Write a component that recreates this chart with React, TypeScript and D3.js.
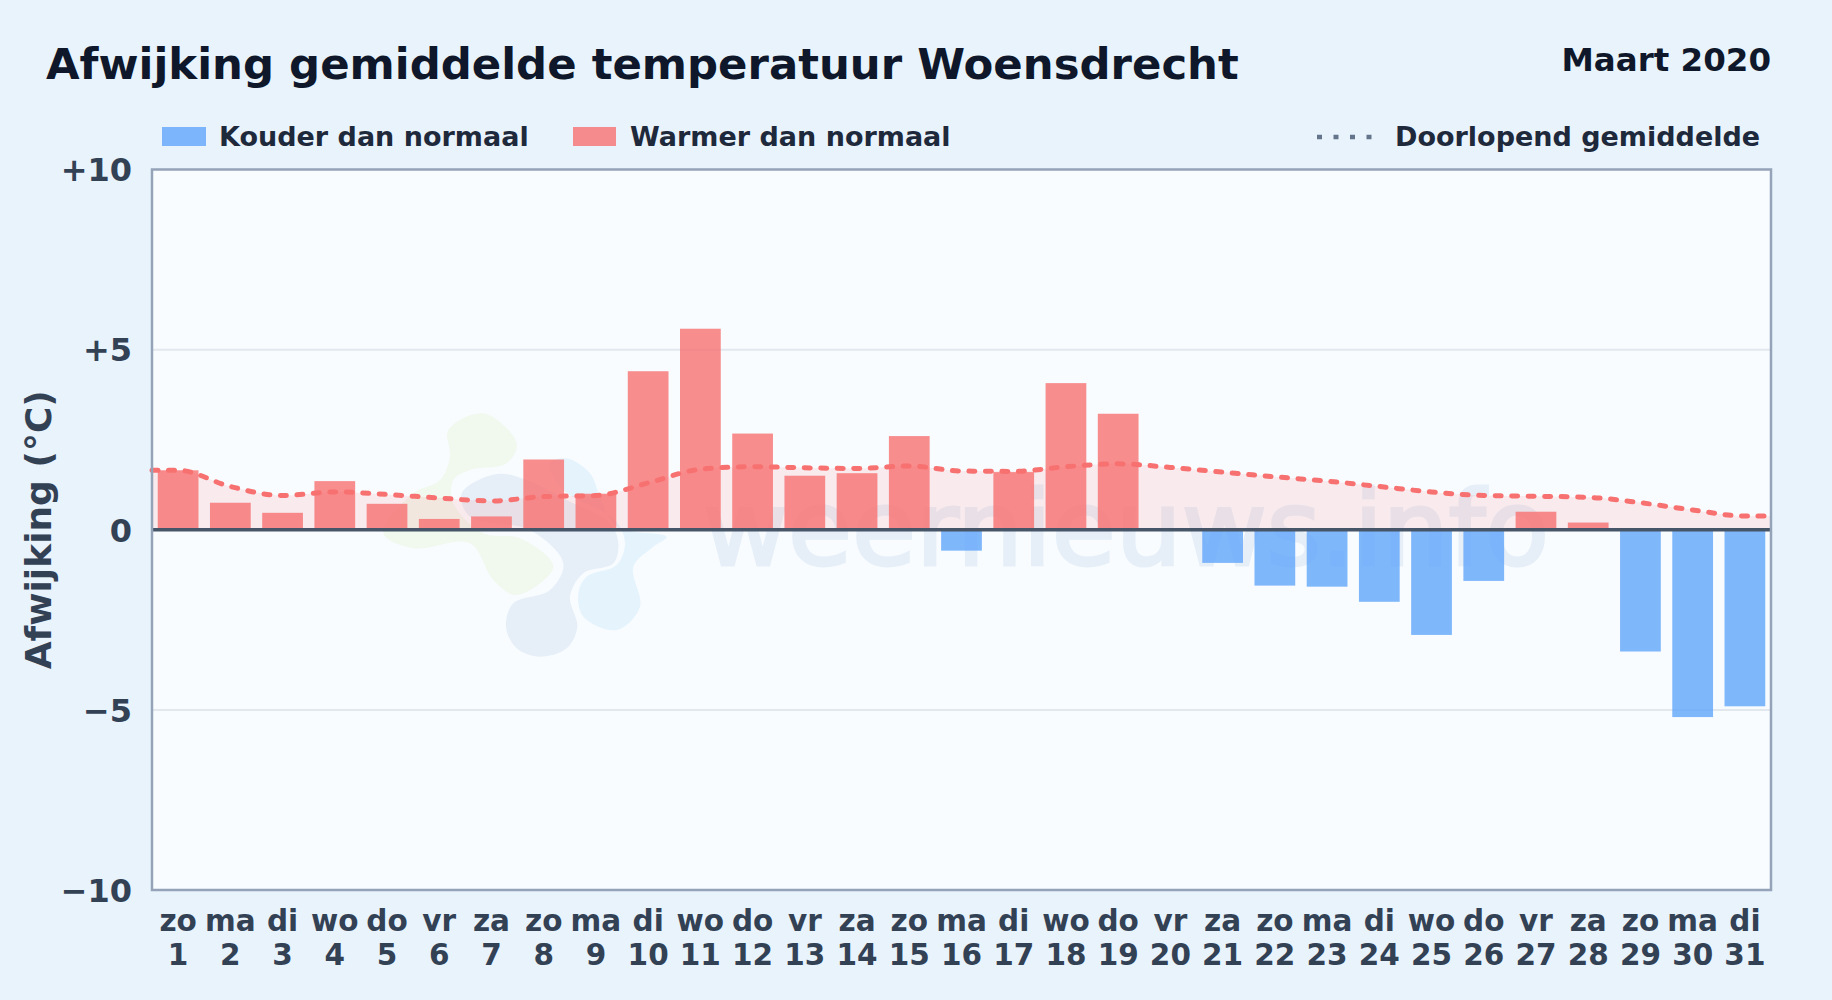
import React, { useEffect, useRef } from 'react';
import * as d3 from 'd3';

const days = ['zo', 'ma', 'di', 'wo', 'do', 'vr', 'za', 'zo', 'ma', 'di', 'wo', 'do', 'vr', 'za', 'zo', 'ma', 'di', 'wo', 'do', 'vr', 'za', 'zo', 'ma', 'di', 'wo', 'do', 'vr', 'za', 'zo', 'ma', 'di'];
const dates = d3.range(1, 32);
const deviation = [1.65, 0.75, 0.47, 1.35, 0.72, 0.3, 0.37, 1.95, 1.0, 4.4, 5.58, 2.67, 1.5, 1.57, 2.6, -0.58, 1.6, 4.07, 3.22, 0, -0.92, -1.55, -1.58, -2.0, -2.92, -1.42, 0.5, 0.2, -3.38, -5.2, -4.9];
const runningMean = [1.65, 1.2, 0.95, 1.05, 0.98, 0.88, 0.8, 0.92, 0.95, 1.3, 1.68, 1.75, 1.72, 1.7, 1.77, 1.63, 1.62, 1.75, 1.83, 1.73, 1.6, 1.47, 1.35, 1.2, 1.05, 0.95, 0.93, 0.9, 0.75, 0.55, 0.38];
const yTicks = [-10, -5, 0, 5, 10];
const gridTicks = [-5, 5];

// watermark logo outlines, in logo units
const logoGreen: [number, number][] = [[235, 90], [340, 40], [440, 130], [410, 190], [300, 210], [250, 240], [250, 310], [340, 400], [450, 415], [550, 500], [440, 585], [370, 540], [300, 430], [130, 445], [40, 400], [130, 280], [210, 240], [240, 170]];
const logoBlue: [number, number][] = [[380, 222], [275, 280], [300, 350], [480, 390], [580, 490], [540, 570], [430, 610], [408, 680], [440, 745], [510, 770], [590, 745], [622, 680], [600, 590], [640, 520], [730, 490], [745, 430], [720, 370], [590, 300], [470, 240]];
const logoSky: [number, number][] = [[590, 175], [660, 220], [690, 290], [740, 380], [890, 410], [850, 440], [790, 500], [810, 620], [740, 690], [640, 650], [625, 580], [650, 530], [740, 495], [765, 430], [735, 360], [580, 270], [540, 190]];

const W = 1832;
const H = 1000;
const margin = { left: 152, right: 61, top: 169.5, bottom: 110 };
const font = '"DejaVu Sans", sans-serif';

const App: React.FC = () => {
  const svgRef = useRef<SVGSVGElement>(null);

  useEffect(() => {
    if (!svgRef.current) return;
    const svg = d3.select(svgRef.current);
    svg.selectAll('*').remove();

    const right = W - margin.right;
    const bottom = H - margin.bottom;

    const x = d3.scaleBand<number>().domain(dates).range([margin.left, right]).paddingInner(0.22).paddingOuter(0.11);
    const xLine = d3.scaleLinear().domain([0.5, 31.5]).range([margin.left, right]);
    const y = d3.scaleLinear().domain([-10, 10]).range([bottom, margin.top]);

    svg.append('rect').attr('width', W).attr('height', H).attr('fill', '#e8f3fc');
    svg.append('rect')
      .attr('x', margin.left).attr('y', margin.top)
      .attr('width', right - margin.left).attr('height', bottom - margin.top)
      .attr('fill', '#f8fcff');

    // watermark
    const wm = svg.append('g');
    const blob = d3.line<[number, number]>()
      .x(d => 370 + d[0] / 3)
      .y(d => 400 + d[1] / 3)
      .curve(d3.curveCatmullRomClosed.alpha(0.5));
    wm.append('path').attr('d', blob(logoGreen)).attr('fill', '#f1f8ee');
    wm.append('path').attr('d', blob(logoSky)).attr('fill', '#e5f3fd');
    wm.append('path').attr('d', blob(logoBlue)).attr('fill', '#e6eff8');
    wm.append('text')
      .attr('x', 703).attr('y', 565)
      .attr('font-family', font).attr('font-size', 104)
      .attr('fill', '#e6eff8').attr('stroke', '#e6eff8').attr('stroke-width', 3)
      .text('weernieuws.info');

    // grid
    svg.append('g').selectAll('line').data(gridTicks).join('line')
      .attr('x1', margin.left).attr('x2', right)
      .attr('y1', d => y(d)).attr('y2', d => y(d))
      .attr('stroke', '#e2e8ee').attr('stroke-width', 2);

    // running mean area + line, held flat out to the plot edges
    const meanPts: [number, number][] = [[0.5, runningMean[0]], ...runningMean.map((v, i) => [dates[i], v] as [number, number]), [31.5, runningMean[30]]];
    const area = d3.area<[number, number]>()
      .x(d => xLine(d[0])).y0(y(0)).y1(d => y(d[1]))
      .curve(d3.curveMonotoneX);
    const line = d3.line<[number, number]>()
      .x(d => xLine(d[0])).y(d => y(d[1]))
      .curve(d3.curveMonotoneX);

    svg.append('path').attr('d', area(meanPts)).attr('fill', '#f87171').attr('fill-opacity', 0.13);

    // bars
    svg.append('g').selectAll('rect').data(deviation).join('rect')
      .attr('x', (_, i) => x(dates[i]) as number)
      .attr('width', x.bandwidth())
      .attr('y', d => y(Math.max(d, 0)))
      .attr('height', d => Math.abs(y(d) - y(0)))
      .attr('fill', d => d >= 0 ? '#f87171' : '#60a5fa')
      .attr('fill-opacity', 0.8);

    svg.append('path').attr('d', line(meanPts))
      .attr('fill', 'none').attr('stroke', '#f87171')
      .attr('stroke-width', 5).attr('stroke-linecap', 'round')
      .attr('stroke-dasharray', '6 10.5');

    // zero line and frame
    svg.append('line')
      .attr('x1', margin.left).attr('x2', right)
      .attr('y1', y(0)).attr('y2', y(0))
      .attr('stroke', '#475569').attr('stroke-width', 3.5);
    svg.append('rect')
      .attr('x', margin.left).attr('y', margin.top)
      .attr('width', right - margin.left).attr('height', bottom - margin.top)
      .attr('fill', 'none').attr('stroke', '#94a3b8').attr('stroke-width', 2.5);

    // y axis
    const yAxis = d3.axisLeft(y)
      .tickValues(yTicks)
      .tickSize(0)
      .tickPadding(20)
      .tickFormat(d => (+d > 0 ? '+' : +d < 0 ? '\u2212' : '') + Math.abs(+d));
    const yG = svg.append('g').attr('transform', `translate(${margin.left},1)`).call(yAxis);
    yG.select('.domain').remove();
    yG.selectAll('text')
      .attr('font-family', font).attr('font-size', 32).attr('font-weight', 700)
      .attr('fill', '#334155');

    // x axis, weekday over date
    const xAxis = d3.axisBottom(x).tickSize(0).tickFormat(() => '');
    const xG = svg.append('g').attr('transform', `translate(0,${bottom})`).call(xAxis);
    xG.select('.domain').remove();
    xG.selectAll<SVGTextElement, number>('text').each(function (d, i) {
      const t = d3.select(this)
        .attr('y', 0).attr('dy', null)
        .attr('font-family', font).attr('font-size', 29.5).attr('font-weight', 700)
        .attr('fill', '#334155');
      t.append('tspan').attr('x', 0).attr('y', 41).text(days[i]);
      t.append('tspan').attr('x', 0).attr('y', 75).text(d);
    });

    // y title
    svg.append('text')
      .attr('transform', `translate(51,${y(0)}) rotate(-90)`)
      .attr('text-anchor', 'middle')
      .attr('font-family', font).attr('font-size', 36).attr('font-weight', 700)
      .attr('fill', '#334155')
      .text('Afwijking (°C)');

    // header
    svg.append('text')
      .attr('x', 46).attr('y', 79)
      .attr('font-family', font).attr('font-size', 43.4).attr('font-weight', 700)
      .attr('fill', '#0f172a')
      .text('Afwijking gemiddelde temperatuur Woensdrecht');
    svg.append('text')
      .attr('x', right).attr('y', 71).attr('text-anchor', 'end')
      .attr('font-family', font).attr('font-size', 32.5).attr('font-weight', 700)
      .attr('fill', '#0f172a')
      .text('Maart 2020');

    // legend
    const legend = svg.append('g')
      .attr('font-family', font).attr('font-size', 27).attr('font-weight', 700)
      .attr('fill', '#1e293b');
    legend.append('rect').attr('x', 162).attr('y', 127).attr('width', 44).attr('height', 19).attr('fill', '#60a5fa').attr('fill-opacity', 0.8);
    legend.append('text').attr('x', 219).attr('y', 146).text('Kouder dan normaal');
    legend.append('rect').attr('x', 573).attr('y', 127).attr('width', 43).attr('height', 19).attr('fill', '#f87171').attr('fill-opacity', 0.8);
    legend.append('text').attr('x', 630).attr('y', 146).text('Warmer dan normaal');
    legend.append('line')
      .attr('x1', 1317).attr('x2', 1373).attr('y1', 137).attr('y2', 137)
      .attr('stroke', '#64748b').attr('stroke-width', 4.5).attr('stroke-dasharray', '5 11.5');
    legend.append('text').attr('x', 1395).attr('y', 146).text('Doorlopend gemiddelde');
  }, []);

  return <svg ref={svgRef} width={W} height={H} style={{ position: 'absolute', left: 0, top: 0, display: 'block' }} />;
};

export default App;
